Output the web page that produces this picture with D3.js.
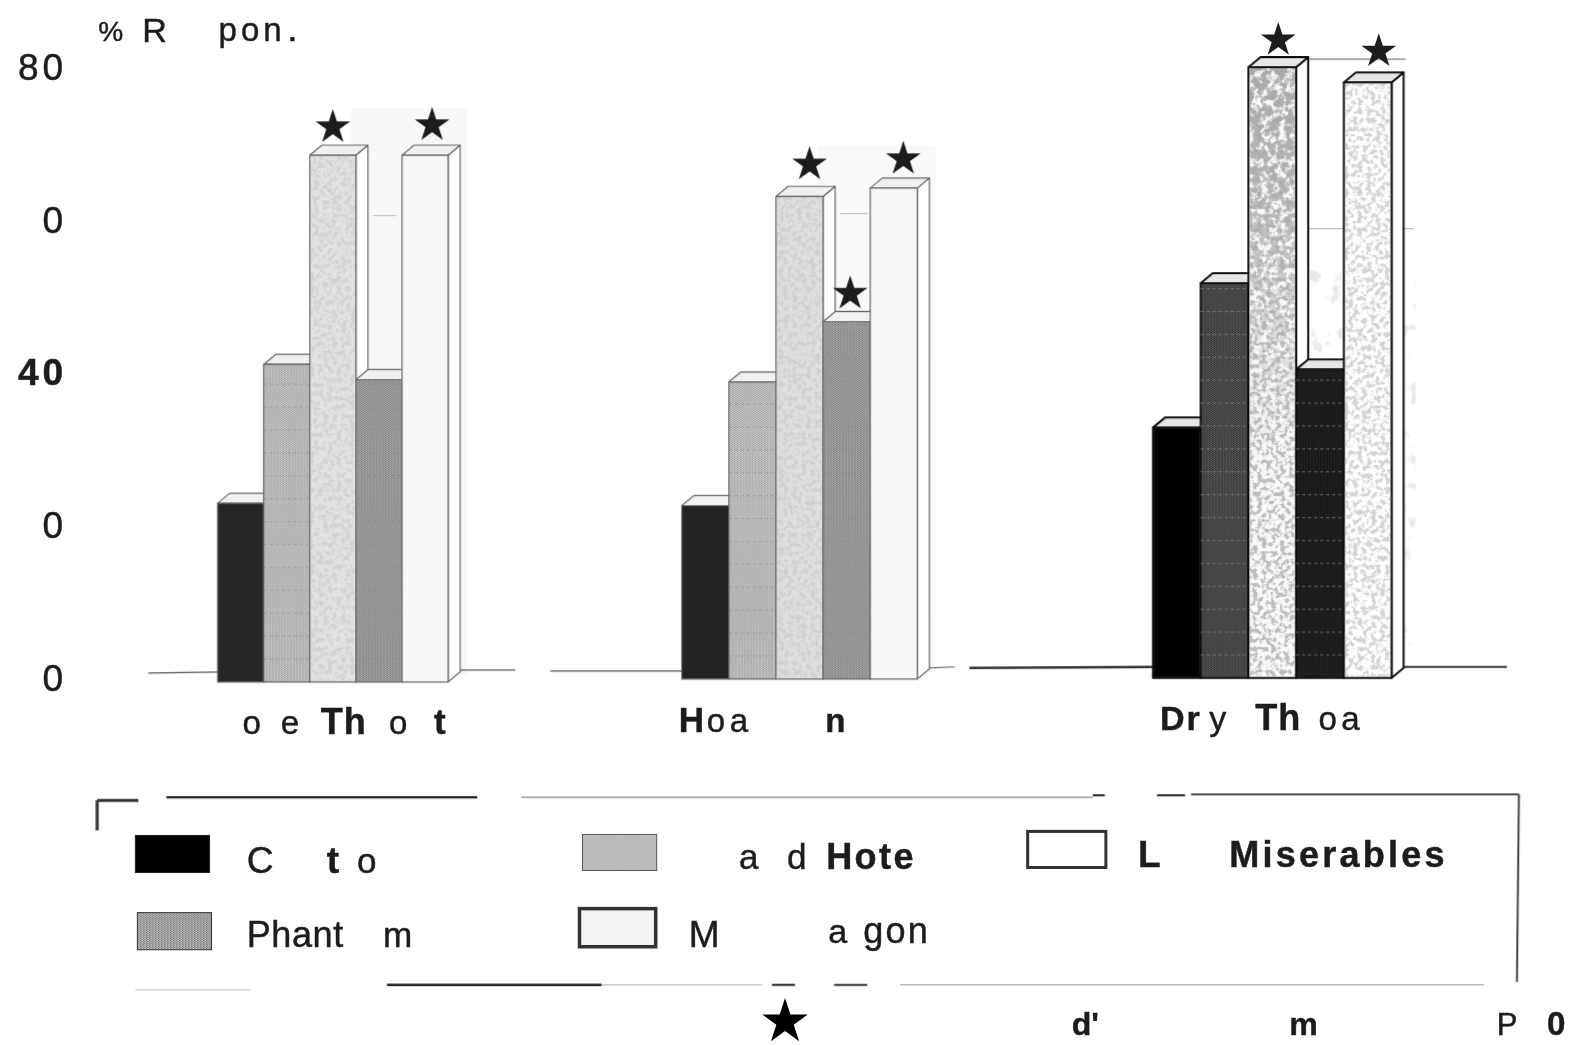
<!DOCTYPE html>
<html><head><meta charset="utf-8">
<script src="https://cdn.jsdelivr.net/npm/d3@7"></script>
<style>
html,body{margin:0;padding:0;background:#fff;overflow:hidden}
svg{display:block}
text{font-family:"Liberation Sans",Arial,sans-serif;fill:#1c1c1c;stroke:#1c1c1c;stroke-width:.45}
</style></head><body><svg id="c" width="1572" height="1045"></svg>
<script>
// ---- data ----
const groups = ["Buon Me Thuot","Hoa Binh","Dry Thoa"];
const seriesNames = ["Cult","Phantom","Grand Hotel","Mortal","Les Miserables"];
const cult       = [23.4, 22.7, 32.8];
const phantom    = [41.6, 38.9, 51.7];
const grandHotel = [69.0, 63.2, 80.0];
const mortal     = [39.6, 46.8, 40.4];
const miserables = [69.0, 64.3, 78.0];
const significant = [[2,4],[2,3,4],[2,4]];
const tickValues = [0,20,40,60,80];
const tickLabels = ["0","0","40","0","80"];

// ---- layout ----
const svg = d3.select("#c");
const defs = svg.append("defs");
const groupLeft = d3.scaleOrdinal(groups,[217,680,1150]);
const groupWidth = d3.scaleOrdinal(groups,[230,235,238]);
const baseY = d3.scaleOrdinal(groups,[680,677,676]);
const depthX = 12, depthY = 10, plotH = 609;
const yAxisScale = d3.scaleLinear([0,80],[675,675-plotH]);
const values = [cult,phantom,grandHotel,mortal,miserables];
const starNudge = [{2:[0,-28],4:[7,-30]},{2:[10,-32],3:[3.5,-28],4:[9.5,-29]},{2:[6,-27],4:[11,-31]}];

function dots(id,bg,fg){
  const p = defs.append("pattern").attr("id",id).attr("patternUnits","userSpaceOnUse")
    .attr("width",3).attr("height",2);
  p.append("rect").attr("width",3).attr("height",2).attr("fill",bg);
  p.append("rect").attr("x",0).attr("y",0).attr("width",1.4).attr("height",1).attr("fill",fg);
  p.append("rect").attr("x",1.5).attr("y",1).attr("width",1.4).attr("height",1).attr("fill",fg);
}
dots("lightHatch","#dedede","#8a8a8a");
dots("midHatch","#bcbcbc","#6a6a6a");
dots("darkHatch","#6a6a6a","#1e1e1e");
dots("blackHatch","#2e2e2e","#0a0a0a");
dots("legendHatch","#e6e6e6","#8a8a8a");
dots("legendMid","#cfcfcf","#666");
const gf = defs.append("filter").attr("id","grain").attr("x",0).attr("y",0).attr("width",1).attr("height",1);
gf.append("feTurbulence").attr("type","fractalNoise").attr("baseFrequency",.22).attr("numOctaves",4).attr("seed",7);
gf.append("feColorMatrix").attr("values","0 0 0 0 .45  0 0 0 0 .45  0 0 0 0 .45  0 0 0 -7 3.7");
gf.append("feComposite").attr("in2","SourceAlpha").attr("operator","in");
const gh = defs.append("filter").attr("id","grainHeavy").attr("x",0).attr("y",0).attr("width",1).attr("height",1);
gh.append("feTurbulence").attr("type","fractalNoise").attr("baseFrequency",.12).attr("numOctaves",4).attr("seed",11);
gh.append("feColorMatrix").attr("values","0 0 0 0 .4  0 0 0 0 .4  0 0 0 0 .4  0 0 0 -8 4.6");
gh.append("feComposite").attr("in2","SourceAlpha").attr("operator","in");
const fade = defs.append("linearGradient").attr("id","fadeDown").attr("x1",0).attr("y1",0).attr("x2",0).attr("y2",1);
fade.append("stop").attr("offset",0).attr("stop-color","#000").attr("stop-opacity",1);
fade.append("stop").attr("offset",.35).attr("stop-color","#000").attr("stop-opacity",.8);
fade.append("stop").attr("offset",1).attr("stop-color","#000").attr("stop-opacity",0);
const soft = defs.append("filter").attr("id","soft").attr("filterUnits","userSpaceOnUse")
  .attr("x",0).attr("y",0).attr("width",1572).attr("height",1045);
soft.append("feGaussianBlur").attr("stdDeviation",.6);
const faint = defs.append("filter").attr("id","faint").attr("x",0).attr("y",0).attr("width",1).attr("height",1);
faint.append("feTurbulence").attr("type","fractalNoise").attr("baseFrequency",.05).attr("numOctaves",4).attr("seed",3);
faint.append("feColorMatrix").attr("values","0 0 0 0 .65  0 0 0 0 .65  0 0 0 0 .65  0 0 0 -8 3.4");
faint.append("feComposite").attr("in2","SourceAlpha").attr("operator","in");

const fills = [
  ["#272727","url(#lightHatch)","#e2e2e2","url(#midHatch)","#f8f8f8"],
  ["#222","url(#lightHatch)","#dedede","url(#midHatch)","#f8f8f8"],
  ["#060606","url(#darkHatch)","#f8f8f8","url(#blackHatch)","#fdfdfd"]
];
const grainOp = [[0,0,.3,0,0],[0,0,.3,0,0],[0,0,.85,0,.55]];
const strokes = ["#666","#666","#111"];
const strokeW = [1.2,1.2,2];

const root = svg.append("g").attr("filter","url(#soft)").attr("transform","scale(1.0026,1.0029)");

// scanner shading behind the bars
const shade = [[350,108,116,565,"#f8f8f8"],[815,145,118,525,"#f9f9f9"]];
root.selectAll("rect.shade").data(shade).join("rect").attr("class","shade")
  .attr("x",d=>d[0]).attr("y",d=>d[1]).attr("width",d=>d[2]).attr("height",d=>d[3]).attr("fill",d=>d[4]);
root.append("rect").attr("x",1300).attr("y",270).attr("width",112).attr("height",380)
  .attr("fill","#000").attr("filter","url(#faint)").attr("opacity",.5);

// base lines and stray rules
const rules = [
 [148,671,217,670,1.2,"#555"],[459,668,514,668,1.2,"#555"],
 [549,669,680,669,1.2,"#555"],[927,666,952,665,1.2,"#555"],
 [967,666,1150,665,2.4,"#333"],[1399,665,1503,665,2,"#333"],
 [1304,59,1402,59,1,"#555"],[1304,228,1410,228,.8,"#999"],
 [372,215,395,215,1,"#bbb"],[400,265,445,265,.7,"#ddd"],[838,213,866,213,1,"#bbb"],
 // legend frame
 [97,828,97,798,3,"#333"],[97,798,138,798,3,"#333"],[166,795,476,795,2.4,"#222"],
 [520,795,1090,795,1.2,"#888"],[1090,793,1102,793,2,"#222"],[1154,793,1182,793,2,"#222"],
 [1188,792,1515,792,2,"#444"],[1515,792,1513,979,2,"#444"],
 [135,987,250,987,1,"#bbb"],[386,982,600,982,2.6,"#222"],[600,982,760,982,1,"#aaa"],
 [770,982,793,982,2,"#222"],[832,982,865,982,2,"#333"],[898,982,1480,982,1.2,"#aaa"]
];
root.selectAll("line.rule").data(rules).join("line").attr("class","rule")
  .attr("x1",d=>d[0]).attr("y1",d=>d[1]).attr("x2",d=>d[2]).attr("y2",d=>d[3])
  .attr("stroke-width",d=>d[4]).attr("stroke",d=>d[5]);

// bars
const line = d3.line();
groups.forEach((g,gi)=>{
  const left = groupLeft(g);
  const x = d3.scaleBand().domain(seriesNames).range([left,left+groupWidth(g)]);
  const y = d3.scaleLinear([0,80],[baseY(g),baseY(g)-plotH]);
  const layer = root.append("g");
  seriesNames.forEach((s,si)=>{
    const v = values[si][gi], x0 = x(s), x1 = x0+x.bandwidth(), yT = y(v), yB = y(0);
    const st = {stroke:strokes[gi],"stroke-width":strokeW[gi],"stroke-linejoin":"round"};
    const bar = layer.append("g").attr("class","bar");
    const apply = sel=>{for(const k in st) sel.attr(k,st[k]);return sel;};
    apply(bar.append("path").attr("d",line([[x1,yB],[x1+depthX,yB-depthY],[x1+depthX,yT-depthY],[x1,yT]])+"Z").attr("fill","#fff"));
    apply(bar.append("path").attr("d",line([[x0,yT],[x0+depthX,yT-depthY],[x1+depthX,yT-depthY],[x1,yT]])+"Z").attr("fill",gi===2?"#e6e6e6":"#f1f1f1"));
    apply(bar.append("rect").attr("x",x0).attr("y",yT).attr("width",x.bandwidth()).attr("height",yB-yT).attr("fill",fills[gi][si]));
    if(grainOp[gi][si]>0){
      bar.append("rect").attr("x",x0+1).attr("y",yT+1).attr("width",x.bandwidth()-2).attr("height",yB-yT-2)
        .attr("fill","#000").attr("filter","url(#grain)").attr("opacity",grainOp[gi][si]);
    }
    if(gi===2&&si===2){
      bar.append("rect").attr("x",x0+1).attr("y",yT+1).attr("width",x.bandwidth()-2).attr("height",y(28)-yT)
        .attr("fill","url(#fadeDown)").attr("filter","url(#grainHeavy)");
    }
    if(si===1||si===3){
      // dashed horizontal bands in the screened bars
      const n = d3.range(3,v,3);
      bar.selectAll("line").data(n).join("line")
        .attr("x1",x0).attr("x2",x1).attr("y1",d=>y(d)).attr("y2",d=>y(d))
        .attr("stroke",gi===2?"#999":"#888").attr("stroke-width",.6).attr("stroke-dasharray","3 3");
    }
  });
  // stars
  const star = d3.symbol(d3.symbolStar,370);
  layer.selectAll("path.star").data(significant[gi]).join("path").attr("class","star")
    .attr("d",star).attr("fill","#1b1b1b")
    .attr("transform",si=>`translate(${x(seriesNames[si])+x.bandwidth()/2+starNudge[gi][si][0]},${y(values[si][gi])+starNudge[gi][si][1]})`);
});

// axis
const axis = d3.axisLeft(yAxisScale).tickValues(tickValues).tickSize(0).tickPadding(0)
  .tickFormat((d,i)=>tickLabels[i]);
const ax = root.append("g").attr("transform","translate(67,0)").call(axis);
ax.select(".domain").remove();
ax.selectAll("text").attr("font-size",37).attr("letter-spacing",4).attr("font-family",null).attr("fill","#222").attr("dy","0.36em");
ax.selectAll(".tick").filter(d=>d===40).select("text").attr("font-weight","bold");

// text pieces as they survive in the picture
const pieces = [
 // title
 ["%",98,41,28,"normal"],["R",142,42,34,"normal"],["pon",218,41,33,"normal"],[".",288,41,26,"bold"],
 // group labels
 ["o",242,732,33,"normal"],["e",280,732,33,"normal"],["Th",320,732,36,"bold"],["o",388,732,33,"normal"],["t",433,732,35,"bold"],
 ["H",677,730,35,"bold"],["oa",705,730,33,"normal"],["n",823,730,33,"bold"],
 ["Dr",1157,728,34,"bold"],["y",1206,728,34,"normal"],["Th",1252,728,36,"bold"],["oa",1315,728,33,"normal"],
 // legend
 ["C",246,870,37,"normal"],["t",326,870,37,"bold"],["o",356,870,35,"normal"],
 ["Phant",246,944,36,"normal"],["m",382,944,35,"normal"],
 ["a",737,866,35,"normal"],["d",785,866,35,"normal"],["Hote",824,866,36,"bold"],
 ["M",687,944,37,"normal"],["a",826,940,34,"normal"],["gon",861,940,36,"normal"],
 ["L",1135,864,37,"bold"],["Miserables",1226,864,36,"bold"],
 // footnote
 ["d'",1069,1032,32,"bold"],["m",1286,1032,32,"bold"],["P",1493,1032,31,"normal"],["0",1543,1032,33,"bold"]
];
const spacing = {"Miserables":3.2,"Hote":2.4,"gon":2.2,"pon":4,"Phant":.6,"oa":4.5,"Dr":2,"Th":1};
root.selectAll("text.piece").data(pieces).join("text").attr("class","piece")
  .attr("x",d=>d[1]).attr("y",d=>d[2]).attr("font-size",d=>d[3]).attr("font-weight",d=>d[4])
  .attr("letter-spacing",d=>spacing[d[0]]||0).text(d=>d[0]);

// legend swatches
const swatches = [
 {n:"Cult",x:135,y:833,w:74,h:37,f:"#050505",s:"#222",sw:1},
 {n:"Phantom",x:137,y:910,w:74,h:37,f:"url(#legendMid)",s:"#333",sw:1},
 {n:"Grand Hotel",x:581,y:832,w:74,h:36,f:"url(#legendHatch)",s:"#555",sw:1},
 {n:"Mortal",x:578,y:906,w:76,h:38,f:"#f4f4f4",s:"#333",sw:3.5},
 {n:"Les Miserables",x:1025,y:829,w:78,h:36,f:"#fff",s:"#333",sw:3}
];
root.selectAll("rect.sw").data(swatches).join("rect").attr("class","sw")
  .attr("x",d=>d.x).attr("y",d=>d.y).attr("width",d=>d.w).attr("height",d=>d.h)
  .attr("fill",d=>d.f).attr("stroke",d=>d.s).attr("stroke-width",d=>d.sw);

// legend star
root.append("path").attr("d",d3.symbol(d3.symbolStar,640)).attr("fill","#050505")
  .attr("transform","translate(783,1019)");
</script></body></html>
